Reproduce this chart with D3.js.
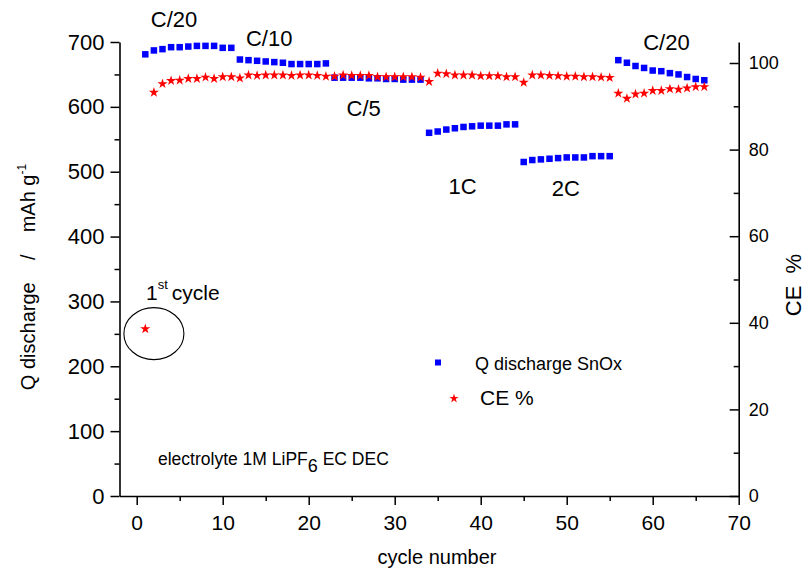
<!DOCTYPE html>
<html><head><meta charset="utf-8">
<script src="https://cdn.jsdelivr.net/npm/d3@7"></script>
<style>
body{margin:0;background:#fff;}
text{font-family:"Liberation Sans",Arial,sans-serif;fill:#000;white-space:pre;}
</style></head>
<body><svg id="c" width="811" height="578"></svg>
<script>
const qdischarge = [681,687,689,692,692,693,694,694,694,691,691,
  673,672,671,670,669,668,666,666,666,666,667,
  645,645,645,645,644,644,643,643,642,642,642,
  560,562,565,567,569,570,571,571,571,573,573,
  515,518,519,520,521,522,522,522,524,524,524,
  672,668,663,660,656,655,652,650,646,643,641];
const ce = [38.6,93.2,95.2,95.9,96.0,96.4,96.4,96.7,96.4,96.8,96.8,96.5,
  97.2,97.1,97.2,97.2,97.2,97.1,97.2,97.2,97.1,96.9,96.9,97.2,
  97.1,97.1,97.1,96.8,96.8,96.8,96.8,96.8,96.7,95.7,97.6,97.5,
  97.2,97.2,97.2,97.0,97.0,97.0,96.8,96.8,95.5,97.2,97.2,97.1,
  97.0,96.9,96.9,96.8,96.8,96.7,96.6,93.0,91.8,92.8,93.0,93.6,
  93.6,94.0,93.9,94.2,94.5,94.5];
const cycles = qdischarge.map((d,i)=>i+1);
const xTicks = [0,10,20,30,40,50,60,70];
const yLeftTicks = [0,100,200,300,400,500,600,700];
const yRightTicks = [0,20,40,60,80,100];
const rateLabels = [
  {t:"C/20", c:4.35, v:723},
  {t:"C/10", c:15.4, v:694},
  {t:"C/5", c:26.4, v:586},
  {t:"1C", c:37.9, v:466},
  {t:"2C", c:49.9, v:463},
  {t:"C/20", c:61.6, v:687}
];

const svg = d3.select("#c");
const x = d3.scaleLinear([-2,70],[119.5,738.7]);
const yL = d3.scaleLinear([0,700],[496,42]);
const yR = d3.scaleLinear([0,104.85],[496,42]);

function styleAxis(g,fs){
  g.selectAll("path,line").attr("stroke","#000").attr("stroke-width",1.5);
  g.select(".domain").attr("stroke-width",1.6);
  g.selectAll("text").style("font-size",fs+"px").style("font-family","'Liberation Sans',Arial,sans-serif").attr("fill","#111");
}
function minor(g){g.select(".domain").remove();g.selectAll("line").attr("stroke","#000").attr("stroke-width",1.5);}
// bottom axis
const gx = svg.append("g").attr("transform","translate(0,496)")
  .call(d3.axisBottom(x).tickValues(xTicks).tickSize(9).tickSizeOuter(0).tickPadding(10));
styleAxis(gx,21);
svg.append("g").attr("transform","translate(0,496)")
  .call(d3.axisBottom(x).tickValues(d3.range(5,70,10)).tickSize(5).tickFormat("").tickSizeOuter(0)).call(minor);
// left axis
const gl = svg.append("g").attr("transform","translate(119.5,0)")
  .call(d3.axisLeft(yL).tickValues(yLeftTicks).tickSize(9).tickSizeOuter(0).tickPadding(6));
styleAxis(gl,22);
svg.append("g").attr("transform","translate(119.5,0)")
  .call(d3.axisLeft(yL).tickValues(d3.range(50,700,100)).tickSize(5).tickFormat("").tickSizeOuter(0)).call(minor);
// right axis (ticks inward)
const gr = svg.append("g").attr("transform","translate(738.7,0)")
  .call(d3.axisRight(yR).tickValues(yRightTicks).tickSize(-9).tickSizeOuter(0).tickPadding(10));
styleAxis(gr,18);
svg.append("g").attr("transform","translate(738.7,0)")
  .call(d3.axisRight(yR).tickValues(d3.range(10,100,20)).tickSize(-5).tickFormat("").tickSizeOuter(0)).call(minor);

// axis titles
svg.append("text").attr("x",437).attr("y",564).attr("text-anchor","middle").style("font-size","20px").text("cycle number");
const yt = svg.append("text").attr("transform","translate(35,277) rotate(-90)").attr("text-anchor","middle").style("font-size","20px");
yt.append("tspan").text("Q discharge    /    mAh g");
yt.append("tspan").attr("dy",-9).style("font-size","12px").text("-1");
svg.append("text").attr("transform","translate(801,285) rotate(-90)").attr("text-anchor","middle").style("font-size","22px").text("CE  %");

// data: squares
const sq = 6.5;
svg.append("g").selectAll("rect").data(cycles).join("rect")
  .attr("x",d=>x(d)-sq/2).attr("y",(d,i)=>yL(qdischarge[i])-sq/2)
  .attr("width",sq).attr("height",sq).attr("fill","#0000ff");
// stars
const star = d3.symbol(d3.symbolStar,32);
svg.append("g").selectAll("path").data(cycles).join("path")
  .attr("d",star).attr("transform",(d,i)=>`translate(${x(d)},${yR(ce[i])})`)
  .attr("fill","#ff0000");

// rate labels
svg.append("g").selectAll("text").data(rateLabels).join("text")
  .attr("x",d=>x(d.c)).attr("y",d=>yL(d.v)).attr("text-anchor","middle")
  .style("font-size","22px").text(d=>d.t);

// 1st cycle annotation
const fc = svg.append("text").attr("x",146).attr("y",300).style("font-size","21px");
fc.append("tspan").text("1");
fc.append("tspan").attr("dy",-11).style("font-size","13px").text("st");
fc.append("tspan").attr("dy",11).attr("dx",4).text("cycle");
svg.append("ellipse").attr("cx",x(2.0)).attr("cy",yR(37.5)).attr("rx",30).attr("ry",26)
  .attr("fill","none").attr("stroke","#000").attr("stroke-width",1.1);

// legend
svg.append("rect").attr("x",435).attr("y",359.5).attr("width",6).attr("height",6).attr("fill","#0000ff");
svg.append("text").attr("x",475).attr("y",370).style("font-size","18px").text("Q discharge SnOx");
svg.append("path").attr("d",d3.symbol(d3.symbolStar,26)).attr("transform","translate(454,398.5)").attr("fill","#ff0000");
svg.append("text").attr("x",480).attr("y",405).style("font-size","21px").text("CE %");

// electrolyte note
const el = svg.append("text").attr("x",158).attr("y",465).style("font-size","17.5px");
el.append("tspan").text("electrolyte 1M LiPF");
el.append("tspan").attr("dy",7).style("font-size","18px").text("6");
el.append("tspan").attr("dy",-7).text(" EC DEC");
</script></body></html>
